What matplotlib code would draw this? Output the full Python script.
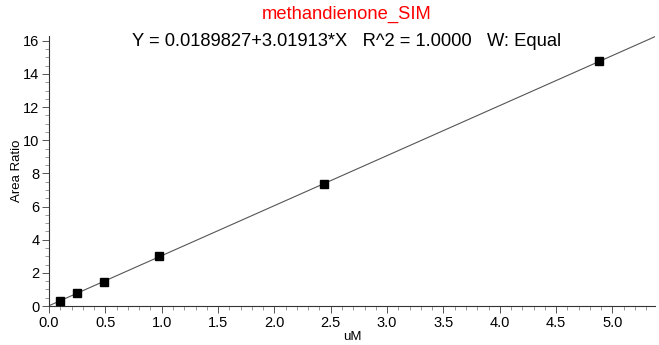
import numpy as np
import matplotlib
matplotlib.use("Agg")
import matplotlib.pyplot as plt
from matplotlib.ticker import MultipleLocator

plt.rcParams['font.family'] = ['Liberation Sans', 'DejaVu Sans']

# calibration data
conc = [0.0977, 0.244, 0.488, 0.977, 2.44, 4.88]
area_ratio = [0.31, 0.76, 1.45, 3.00, 7.35, 14.77]
intercept = 0.0189827
slope = 3.01913
compound = "methandienone_SIM"
equation = "Y = 0.0189827+3.01913*X   R^2 = 1.0000   W: Equal"

fig = plt.figure(figsize=(6.59, 3.45), dpi=100)
ax = fig.add_axes([0.0744, 0.113, 0.920, 0.783])

xmax = 5.38
xfit = np.array([0.0, xmax])
ax.plot(xfit, intercept + slope * xfit, color='#555555', lw=0.8, zorder=2)
ax.plot(conc, area_ratio, 's', color='black', markersize=5.8, zorder=3)

ax.set_xlim(0, xmax)
ax.set_ylim(0, 16.3)
ax.xaxis.set_major_locator(MultipleLocator(0.5))
ax.xaxis.set_minor_locator(MultipleLocator(0.1))
ax.yaxis.set_major_locator(MultipleLocator(2))
ax.yaxis.set_minor_locator(MultipleLocator(0.5))
ax.xaxis.set_major_formatter(plt.FormatStrFormatter('%.1f'))

for s in ['top', 'right']:
    ax.spines[s].set_visible(False)
for s in ['left', 'bottom']:
    ax.spines[s].set_color('#333333')
    ax.spines[s].set_linewidth(0.8)

ax.tick_params(which='major', direction='out', length=5, width=0.7,
               color='#555555', labelsize=10.5, pad=2)
ax.tick_params(which='minor', direction='out', length=3, width=0.6,
               color='#888888')

ax.set_xlabel('uM', fontsize=9.5, labelpad=1)
ax.set_ylabel('Area Ratio', fontsize=9.5)
ax.yaxis.set_label_coords(-0.043, 0.5)

fig.text(0.526, 0.958, compound, color='red', fontsize=13.2, ha='center', va='center')
fig.text(0.526, 0.880, equation, color='black', fontsize=13.2, ha='center', va='center')

fig.savefig('out.png', dpi=100)
